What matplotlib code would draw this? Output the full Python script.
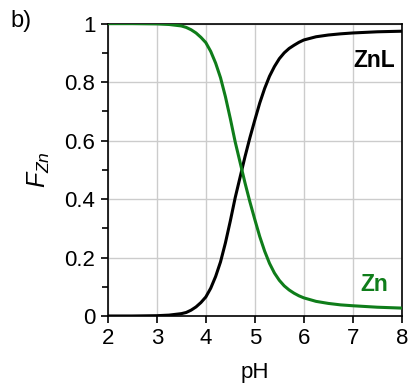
import matplotlib
matplotlib.use("Agg")
import matplotlib.pyplot as plt
from matplotlib.ticker import MultipleLocator

plt.rcParams['font.family'] = ['Liberation Sans', 'DejaVu Sans']
plt.rcParams['mathtext.fontset'] = 'custom'
plt.rcParams['mathtext.it'] = 'Liberation Sans:italic'
plt.rcParams['mathtext.rm'] = 'Liberation Sans'

pH = [2.0, 2.5, 3.0, 3.25, 3.5, 3.6, 3.7, 3.8, 3.9, 4.0, 4.1, 4.2, 4.3, 4.4, 4.5,
      4.6, 4.7, 4.8, 4.9, 5.0, 5.1, 5.2, 5.3, 5.4, 5.5, 5.6, 5.7, 5.8, 5.9, 6.0,
      6.25, 6.5, 6.75, 7.0, 7.5, 8.0]
F_Zn = [1.000, 1.000, 0.999, 0.997, 0.992, 0.987, 0.979, 0.968, 0.953, 0.935,
        0.905, 0.865, 0.815, 0.750, 0.675, 0.595, 0.525, 0.455, 0.390, 0.330,
        0.272, 0.222, 0.180, 0.147, 0.122, 0.103, 0.089, 0.078, 0.069, 0.062,
        0.050, 0.043, 0.038, 0.035, 0.030, 0.027]
F_ZnL = [0.000, 0.000, 0.001, 0.003, 0.008, 0.012, 0.020, 0.031, 0.046, 0.065,
         0.095, 0.135, 0.185, 0.250, 0.325, 0.405, 0.475, 0.545, 0.610, 0.670,
         0.728, 0.778, 0.820, 0.853, 0.880, 0.900, 0.915, 0.926, 0.936, 0.944,
         0.955, 0.961, 0.965, 0.968, 0.972, 0.974]

xticks = [2, 3, 4, 5, 6, 7, 8]
yticks = [0, 0.2, 0.4, 0.6, 0.8, 1]
ytick_labels = ['0', '0.2', '0.4', '0.6', '0.8', '1']

green = '#0f7d1a'

fig = plt.figure(figsize=(4.10, 3.87), dpi=100)
ax = fig.add_axes([0.263, 0.1835, 0.717, 0.7555])

ax.plot(pH, F_ZnL, color='black', lw=2.2, zorder=3)
ax.plot(pH, F_Zn, color=green, lw=2.2, zorder=3)

ax.set_xlim(2, 8)
ax.set_ylim(0, 1)
ax.set_xticks(xticks)
ax.set_xticklabels([str(v) for v in xticks])
ax.set_yticks(yticks)
ax.set_yticklabels(ytick_labels)
ax.yaxis.set_minor_locator(MultipleLocator(0.1))

ax.grid(True, which='major', color='#cccccc', lw=1.0, zorder=0)
ax.set_axisbelow(True)

for s in ax.spines.values():
    s.set_linewidth(1.2)
    s.set_color('black')

ax.tick_params(axis='both', which='major', direction='out', length=5, width=1.2,
               labelsize=16, pad=4, colors='black')
ax.tick_params(axis='y', which='minor', direction='out', length=4, width=1.2)
ax.tick_params(top=False, right=False)

ax.set_xlabel('pH', fontsize=16, labelpad=9)
ax.set_ylabel(r'$F_{Zn}$', fontsize=18, labelpad=9)

ax.text(7.43, 0.875, 'ZnL', fontsize=16.5, fontweight='bold', color='black',
        ha='center', va='center')
ax.text(7.43, 0.106, 'Zn', fontsize=16.5, fontweight='bold', color=green,
        ha='center', va='center')

fig.text(0.025, 0.945, 'b)', fontsize=17, ha='left', va='center')

fig.savefig('out.png', dpi=100)
